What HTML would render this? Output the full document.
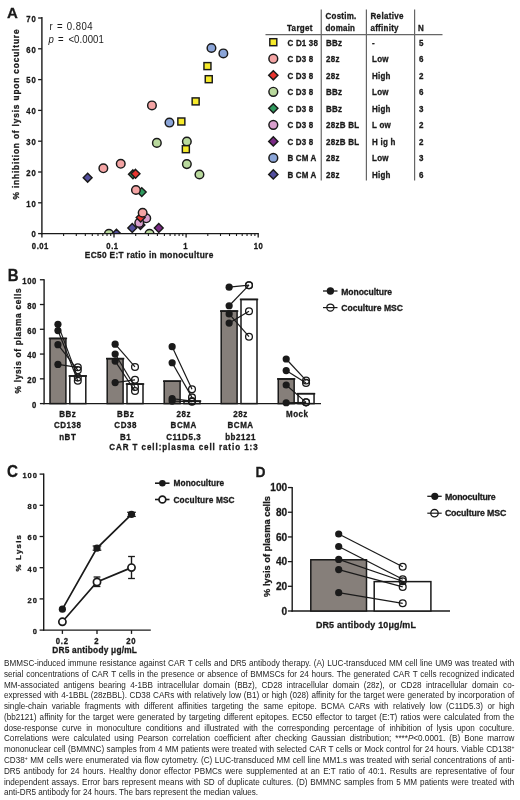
<!DOCTYPE html>
<html><head><meta charset="utf-8"><style>
html,body{margin:0;padding:0;background:#fff;}
body{width:520px;height:800px;position:relative;overflow:hidden;font-family:"Liberation Sans", sans-serif;}
svg{position:absolute;left:0;top:0;will-change:transform;}
svg text{font-family:"Liberation Sans", sans-serif;}
svg text[font-weight=bold]{stroke:#1a1a1a;stroke-width:0.28px;}
.j,.l{will-change:transform;position:absolute;left:3.6px;width:510.4px;font-size:8.13px;line-height:8px;color:#262626;white-space:nowrap;transform:scaleY(1.05);transform-origin:0 7px;}
.j{text-align:justify;text-align-last:justify;white-space:normal;}
sup{font-size:5px;vertical-align:3px;line-height:0;}
</style></head><body>
<svg width="520" height="800" viewBox="0 0 520 800">
<text transform="translate(6.90 17.60) scale(1 1.0)" font-size="15.0" font-weight="bold" fill="#1a1a1a">A</text>
<line x1="41.90" y1="17.00" x2="41.90" y2="234.30" stroke="#1a1a1a" stroke-width="1.4"/>
<line x1="41.20" y1="233.60" x2="258.80" y2="233.60" stroke="#1a1a1a" stroke-width="1.4"/>
<line x1="38.10" y1="233.60" x2="41.90" y2="233.60" stroke="#1a1a1a" stroke-width="1.3"/>
<text transform="translate(35.70 237.30) scale(1 1.07)" font-size="7.7" font-weight="bold" text-anchor="end" fill="#1a1a1a">0</text>
<line x1="38.10" y1="202.80" x2="41.90" y2="202.80" stroke="#1a1a1a" stroke-width="1.3"/>
<text transform="translate(35.70 206.50) scale(1 1.07)" font-size="7.7" font-weight="bold" text-anchor="end" textLength="9.46" lengthAdjust="spacing" fill="#1a1a1a">10</text>
<line x1="38.10" y1="172.00" x2="41.90" y2="172.00" stroke="#1a1a1a" stroke-width="1.3"/>
<text transform="translate(35.70 175.70) scale(1 1.07)" font-size="7.7" font-weight="bold" text-anchor="end" textLength="9.46" lengthAdjust="spacing" fill="#1a1a1a">20</text>
<line x1="38.10" y1="141.20" x2="41.90" y2="141.20" stroke="#1a1a1a" stroke-width="1.3"/>
<text transform="translate(35.70 144.90) scale(1 1.07)" font-size="7.7" font-weight="bold" text-anchor="end" textLength="9.46" lengthAdjust="spacing" fill="#1a1a1a">30</text>
<line x1="38.10" y1="110.40" x2="41.90" y2="110.40" stroke="#1a1a1a" stroke-width="1.3"/>
<text transform="translate(35.70 114.10) scale(1 1.07)" font-size="7.7" font-weight="bold" text-anchor="end" textLength="9.46" lengthAdjust="spacing" fill="#1a1a1a">40</text>
<line x1="38.10" y1="79.60" x2="41.90" y2="79.60" stroke="#1a1a1a" stroke-width="1.3"/>
<text transform="translate(35.70 83.30) scale(1 1.07)" font-size="7.7" font-weight="bold" text-anchor="end" textLength="9.46" lengthAdjust="spacing" fill="#1a1a1a">50</text>
<line x1="38.10" y1="48.80" x2="41.90" y2="48.80" stroke="#1a1a1a" stroke-width="1.3"/>
<text transform="translate(35.70 52.50) scale(1 1.07)" font-size="7.7" font-weight="bold" text-anchor="end" textLength="9.46" lengthAdjust="spacing" fill="#1a1a1a">60</text>
<line x1="38.10" y1="18.00" x2="41.90" y2="18.00" stroke="#1a1a1a" stroke-width="1.3"/>
<text transform="translate(35.70 21.70) scale(1 1.07)" font-size="7.7" font-weight="bold" text-anchor="end" textLength="9.46" lengthAdjust="spacing" fill="#1a1a1a">70</text>
<line x1="41.90" y1="233.60" x2="41.90" y2="237.40" stroke="#1a1a1a" stroke-width="1.3"/>
<line x1="114.00" y1="233.60" x2="114.00" y2="237.40" stroke="#1a1a1a" stroke-width="1.3"/>
<line x1="186.10" y1="233.60" x2="186.10" y2="237.40" stroke="#1a1a1a" stroke-width="1.3"/>
<line x1="258.20" y1="233.60" x2="258.20" y2="237.40" stroke="#1a1a1a" stroke-width="1.3"/>
<line x1="63.60" y1="233.60" x2="63.60" y2="236.00" stroke="#1a1a1a" stroke-width="1.1"/>
<line x1="76.30" y1="233.60" x2="76.30" y2="236.00" stroke="#1a1a1a" stroke-width="1.1"/>
<line x1="85.31" y1="233.60" x2="85.31" y2="236.00" stroke="#1a1a1a" stroke-width="1.1"/>
<line x1="92.30" y1="233.60" x2="92.30" y2="236.00" stroke="#1a1a1a" stroke-width="1.1"/>
<line x1="98.00" y1="233.60" x2="98.00" y2="236.00" stroke="#1a1a1a" stroke-width="1.1"/>
<line x1="102.83" y1="233.60" x2="102.83" y2="236.00" stroke="#1a1a1a" stroke-width="1.1"/>
<line x1="107.01" y1="233.60" x2="107.01" y2="236.00" stroke="#1a1a1a" stroke-width="1.1"/>
<line x1="110.70" y1="233.60" x2="110.70" y2="236.00" stroke="#1a1a1a" stroke-width="1.1"/>
<line x1="135.70" y1="233.60" x2="135.70" y2="236.00" stroke="#1a1a1a" stroke-width="1.1"/>
<line x1="148.40" y1="233.60" x2="148.40" y2="236.00" stroke="#1a1a1a" stroke-width="1.1"/>
<line x1="157.41" y1="233.60" x2="157.41" y2="236.00" stroke="#1a1a1a" stroke-width="1.1"/>
<line x1="164.40" y1="233.60" x2="164.40" y2="236.00" stroke="#1a1a1a" stroke-width="1.1"/>
<line x1="170.10" y1="233.60" x2="170.10" y2="236.00" stroke="#1a1a1a" stroke-width="1.1"/>
<line x1="174.93" y1="233.60" x2="174.93" y2="236.00" stroke="#1a1a1a" stroke-width="1.1"/>
<line x1="179.11" y1="233.60" x2="179.11" y2="236.00" stroke="#1a1a1a" stroke-width="1.1"/>
<line x1="182.80" y1="233.60" x2="182.80" y2="236.00" stroke="#1a1a1a" stroke-width="1.1"/>
<line x1="207.80" y1="233.60" x2="207.80" y2="236.00" stroke="#1a1a1a" stroke-width="1.1"/>
<line x1="220.50" y1="233.60" x2="220.50" y2="236.00" stroke="#1a1a1a" stroke-width="1.1"/>
<line x1="229.51" y1="233.60" x2="229.51" y2="236.00" stroke="#1a1a1a" stroke-width="1.1"/>
<line x1="236.50" y1="233.60" x2="236.50" y2="236.00" stroke="#1a1a1a" stroke-width="1.1"/>
<line x1="242.20" y1="233.60" x2="242.20" y2="236.00" stroke="#1a1a1a" stroke-width="1.1"/>
<line x1="247.03" y1="233.60" x2="247.03" y2="236.00" stroke="#1a1a1a" stroke-width="1.1"/>
<line x1="251.21" y1="233.60" x2="251.21" y2="236.00" stroke="#1a1a1a" stroke-width="1.1"/>
<line x1="254.90" y1="233.60" x2="254.90" y2="236.00" stroke="#1a1a1a" stroke-width="1.1"/>
<text transform="translate(40.10 248.50) scale(1 1.07)" font-size="7.7" font-weight="bold" text-anchor="middle" textLength="16.49" lengthAdjust="spacing" fill="#1a1a1a">0.01</text>
<text transform="translate(112.20 248.50) scale(1 1.07)" font-size="7.7" font-weight="bold" text-anchor="middle" textLength="11.70" lengthAdjust="spacing" fill="#1a1a1a">0.1</text>
<text transform="translate(185.40 248.50) scale(1 1.07)" font-size="7.7" font-weight="bold" text-anchor="middle" fill="#1a1a1a">1</text>
<text transform="translate(258.20 248.50) scale(1 1.07)" font-size="7.7" font-weight="bold" text-anchor="middle" textLength="9.16" lengthAdjust="spacing" fill="#1a1a1a">10</text>
<text transform="translate(84.80 257.50) scale(1 1.07)" font-size="8.3" font-weight="bold" textLength="128.50" lengthAdjust="spacing" fill="#1a1a1a">EC50 E:T ratio in monoculture</text>
<text transform="translate(19.3,199.5) rotate(-90) scale(1 1.07)" font-size="8.3" font-weight="bold" textLength="170" lengthAdjust="spacing" fill="#1a1a1a">% inhibition of lysis upon coculture</text>
<text transform="translate(49.60 30.10) scale(1 1.07)" font-size="9.6" fill="#1a1a1a">r</text>
<text transform="translate(57.00 30.10) scale(1 1.07)" font-size="9.6" fill="#1a1a1a">=</text>
<text transform="translate(66.80 30.10) scale(1 1.07)" font-size="9.6" textLength="25.90" lengthAdjust="spacing" fill="#1a1a1a">0.804</text>
<text transform="translate(48.4 43.2) scale(1 1.1)" font-size="9.6" font-style="italic" fill="#1a1a1a">p</text>
<text transform="translate(57.90 43.20) scale(1 1.07)" font-size="9.6" fill="#1a1a1a">=</text>
<text transform="translate(68.40 43.20) scale(1 1.07)" font-size="9.6" textLength="35.40" lengthAdjust="spacing" fill="#1a1a1a">&lt;0.0001</text>
<defs><clipPath id="ca"><rect x="0" y="0" width="520" height="233"/></clipPath></defs><g clip-path="url(#ca)">
<circle cx="211.45" cy="48.00" r="4.3" fill="#8ba5d8" stroke="#1a1a1a" stroke-width="1.45"/>
<circle cx="223.35" cy="53.40" r="4.3" fill="#8ba5d8" stroke="#1a1a1a" stroke-width="1.45"/>
<rect x="203.95" y="62.60" width="7.0" height="7.0" fill="#f6ea2c" stroke="#1a1a1a" stroke-width="1.45"/>
<rect x="205.25" y="75.70" width="7.0" height="7.0" fill="#f6ea2c" stroke="#1a1a1a" stroke-width="1.45"/>
<rect x="192.15" y="97.90" width="7.0" height="7.0" fill="#f6ea2c" stroke="#1a1a1a" stroke-width="1.45"/>
<rect x="177.85" y="118.00" width="7.0" height="7.0" fill="#f6ea2c" stroke="#1a1a1a" stroke-width="1.45"/>
<circle cx="151.95" cy="105.40" r="4.3" fill="#f4a4a4" stroke="#1a1a1a" stroke-width="1.45"/>
<circle cx="169.45" cy="122.60" r="4.3" fill="#8ba5d8" stroke="#1a1a1a" stroke-width="1.45"/>
<circle cx="156.85" cy="142.90" r="4.3" fill="#b9d99d" stroke="#1a1a1a" stroke-width="1.45"/>
<circle cx="186.85" cy="141.50" r="4.3" fill="#b9d99d" stroke="#1a1a1a" stroke-width="1.45"/>
<rect x="182.35" y="145.70" width="7.0" height="7.0" fill="#f6ea2c" stroke="#1a1a1a" stroke-width="1.45"/>
<circle cx="186.85" cy="164.10" r="4.3" fill="#b9d99d" stroke="#1a1a1a" stroke-width="1.45"/>
<circle cx="199.45" cy="174.50" r="4.3" fill="#b9d99d" stroke="#1a1a1a" stroke-width="1.45"/>
<path d="M87.65 173.30L92.05 177.70L87.65 182.10L83.25 177.70Z" fill="#534f9e" stroke="#1a1a1a" stroke-width="1.45"/>
<circle cx="103.35" cy="168.30" r="4.3" fill="#f4a4a4" stroke="#1a1a1a" stroke-width="1.45"/>
<circle cx="120.75" cy="163.80" r="4.3" fill="#f4a4a4" stroke="#1a1a1a" stroke-width="1.45"/>
<path d="M132.95 169.90L137.35 174.30L132.95 178.70L128.55 174.30Z" fill="#2f9a5e" stroke="#1a1a1a" stroke-width="1.45"/>
<path d="M135.55 169.40L139.95 173.80L135.55 178.20L131.15 173.80Z" fill="#e8352f" stroke="#1a1a1a" stroke-width="1.45"/>
<path d="M141.75 187.70L146.15 192.10L141.75 196.50L137.35 192.10Z" fill="#2f9a5e" stroke="#1a1a1a" stroke-width="1.45"/>
<circle cx="135.95" cy="190.00" r="4.3" fill="#f4a4a4" stroke="#1a1a1a" stroke-width="1.45"/>
<path d="M132.25 223.60L136.65 228.00L132.25 232.40L127.85 228.00Z" fill="#534f9e" stroke="#1a1a1a" stroke-width="1.45"/>
<path d="M140.45 220.70L144.85 225.10L140.45 229.50L136.05 225.10Z" fill="#7b2a86" stroke="#1a1a1a" stroke-width="1.45"/>
<circle cx="146.25" cy="218.30" r="4.3" fill="#d99fcd" stroke="#1a1a1a" stroke-width="1.45"/>
<circle cx="139.25" cy="222.90" r="4.3" fill="#d99fcd" stroke="#1a1a1a" stroke-width="1.45"/>
<path d="M140.65 213.20L145.05 217.60L140.65 222.00L136.25 217.60Z" fill="#e8352f" stroke="#1a1a1a" stroke-width="1.45"/>
<circle cx="142.65" cy="212.70" r="4.3" fill="#f4a4a4" stroke="#1a1a1a" stroke-width="1.45"/>
<circle cx="108.95" cy="233.70" r="4.3" fill="#b9d99d" stroke="#1a1a1a" stroke-width="1.45"/>
<path d="M116.45 229.30L120.85 233.70L116.45 238.10L112.05 233.70Z" fill="#534f9e" stroke="#1a1a1a" stroke-width="1.45"/>
<circle cx="149.55" cy="233.70" r="4.3" fill="#b9d99d" stroke="#1a1a1a" stroke-width="1.45"/>
<path d="M158.75 223.60L163.15 228.00L158.75 232.40L154.35 228.00Z" fill="#7b2a86" stroke="#1a1a1a" stroke-width="1.45"/>
</g>
<line x1="321.25" y1="9.50" x2="321.25" y2="180.50" stroke="#666666" stroke-width="1.2"/>
<line x1="366.40" y1="9.50" x2="366.40" y2="180.50" stroke="#666666" stroke-width="1.2"/>
<line x1="414.60" y1="9.50" x2="414.60" y2="180.50" stroke="#666666" stroke-width="1.2"/>
<line x1="265.50" y1="34.60" x2="442.50" y2="34.60" stroke="#666666" stroke-width="1.1"/>
<text transform="translate(287.00 30.50) scale(1 1.07)" font-size="8.0" font-weight="bold" textLength="25.50" lengthAdjust="spacing" fill="#1a1a1a">Target</text>
<text transform="translate(325.50 19.30) scale(1 1.07)" font-size="8.0" font-weight="bold" textLength="30.80" lengthAdjust="spacing" fill="#1a1a1a">Costim.</text>
<text transform="translate(325.50 30.50) scale(1 1.07)" font-size="8.0" font-weight="bold" textLength="29.50" lengthAdjust="spacing" fill="#1a1a1a">domain</text>
<text transform="translate(370.50 19.30) scale(1 1.07)" font-size="8.0" font-weight="bold" textLength="33.00" lengthAdjust="spacing" fill="#1a1a1a">Relative</text>
<text transform="translate(370.50 30.50) scale(1 1.07)" font-size="8.0" font-weight="bold" textLength="28.00" lengthAdjust="spacing" fill="#1a1a1a">affinity</text>
<text transform="translate(418.00 30.50) scale(1 1.07)" font-size="8.0" font-weight="bold" fill="#1a1a1a">N</text>
<rect x="269.80" y="38.70" width="7.0" height="7.0" fill="#f6ea2c" stroke="#1a1a1a" stroke-width="1.45"/>
<text transform="translate(287.60 45.60) scale(1 1.07)" font-size="8.0" font-weight="bold" textLength="30.25" lengthAdjust="spacing" fill="#1a1a1a">C D1 38</text>
<text transform="translate(326.00 45.60) scale(1 1.07)" font-size="8.0" font-weight="bold" textLength="16.05" lengthAdjust="spacing" fill="#1a1a1a">BBz</text>
<text transform="translate(372.00 45.60) scale(1 1.07)" font-size="8.0" font-weight="bold" fill="#1a1a1a">-</text>
<text transform="translate(419.00 45.60) scale(1 1.07)" font-size="8.0" font-weight="bold" fill="#1a1a1a">5</text>
<circle cx="273.30" cy="58.73" r="4.4" fill="#f4a4a4" stroke="#1a1a1a" stroke-width="1.45"/>
<text transform="translate(287.60 62.13) scale(1 1.07)" font-size="8.0" font-weight="bold" textLength="25.55" lengthAdjust="spacing" fill="#1a1a1a">C D3 8</text>
<text transform="translate(326.00 62.13) scale(1 1.07)" font-size="8.0" font-weight="bold" textLength="13.40" lengthAdjust="spacing" fill="#1a1a1a">28z</text>
<text transform="translate(372.00 62.13) scale(1 1.07)" font-size="8.0" font-weight="bold" textLength="16.50" lengthAdjust="spacing" fill="#1a1a1a">Low</text>
<text transform="translate(419.00 62.13) scale(1 1.07)" font-size="8.0" font-weight="bold" fill="#1a1a1a">6</text>
<path d="M273.30 70.66L277.90 75.26L273.30 79.86L268.70 75.26Z" fill="#e8352f" stroke="#1a1a1a" stroke-width="1.45"/>
<text transform="translate(287.60 78.66) scale(1 1.07)" font-size="8.0" font-weight="bold" textLength="25.55" lengthAdjust="spacing" fill="#1a1a1a">C D3 8</text>
<text transform="translate(326.00 78.66) scale(1 1.07)" font-size="8.0" font-weight="bold" textLength="13.40" lengthAdjust="spacing" fill="#1a1a1a">28z</text>
<text transform="translate(372.00 78.66) scale(1 1.07)" font-size="8.0" font-weight="bold" textLength="18.52" lengthAdjust="spacing" fill="#1a1a1a">High</text>
<text transform="translate(419.00 78.66) scale(1 1.07)" font-size="8.0" font-weight="bold" fill="#1a1a1a">2</text>
<circle cx="273.30" cy="91.79" r="4.4" fill="#b9d99d" stroke="#1a1a1a" stroke-width="1.45"/>
<text transform="translate(287.60 95.19) scale(1 1.07)" font-size="8.0" font-weight="bold" textLength="25.55" lengthAdjust="spacing" fill="#1a1a1a">C D3 8</text>
<text transform="translate(326.00 95.19) scale(1 1.07)" font-size="8.0" font-weight="bold" textLength="16.05" lengthAdjust="spacing" fill="#1a1a1a">BBz</text>
<text transform="translate(372.00 95.19) scale(1 1.07)" font-size="8.0" font-weight="bold" textLength="16.50" lengthAdjust="spacing" fill="#1a1a1a">Low</text>
<text transform="translate(419.00 95.19) scale(1 1.07)" font-size="8.0" font-weight="bold" fill="#1a1a1a">6</text>
<path d="M273.30 103.72L277.90 108.32L273.30 112.92L268.70 108.32Z" fill="#2f9a5e" stroke="#1a1a1a" stroke-width="1.45"/>
<text transform="translate(287.60 111.72) scale(1 1.07)" font-size="8.0" font-weight="bold" textLength="25.55" lengthAdjust="spacing" fill="#1a1a1a">C D3 8</text>
<text transform="translate(326.00 111.72) scale(1 1.07)" font-size="8.0" font-weight="bold" textLength="16.05" lengthAdjust="spacing" fill="#1a1a1a">BBz</text>
<text transform="translate(372.00 111.72) scale(1 1.07)" font-size="8.0" font-weight="bold" textLength="18.52" lengthAdjust="spacing" fill="#1a1a1a">High</text>
<text transform="translate(419.00 111.72) scale(1 1.07)" font-size="8.0" font-weight="bold" fill="#1a1a1a">3</text>
<circle cx="273.30" cy="124.85" r="4.4" fill="#d99fcd" stroke="#1a1a1a" stroke-width="1.45"/>
<text transform="translate(287.60 128.25) scale(1 1.07)" font-size="8.0" font-weight="bold" textLength="25.55" lengthAdjust="spacing" fill="#1a1a1a">C D3 8</text>
<text transform="translate(326.00 128.25) scale(1 1.07)" font-size="8.0" font-weight="bold" textLength="33.06" lengthAdjust="spacing" fill="#1a1a1a">28zB BL</text>
<text transform="translate(372.00 128.25) scale(1 1.07)" font-size="8.0" font-weight="bold" textLength="18.82" lengthAdjust="spacing" fill="#1a1a1a">L ow</text>
<text transform="translate(419.00 128.25) scale(1 1.07)" font-size="8.0" font-weight="bold" fill="#1a1a1a">2</text>
<path d="M273.30 136.78L277.90 141.38L273.30 145.98L268.70 141.38Z" fill="#7b2a86" stroke="#1a1a1a" stroke-width="1.45"/>
<text transform="translate(287.60 144.78) scale(1 1.07)" font-size="8.0" font-weight="bold" textLength="25.55" lengthAdjust="spacing" fill="#1a1a1a">C D3 8</text>
<text transform="translate(326.00 144.78) scale(1 1.07)" font-size="8.0" font-weight="bold" textLength="33.06" lengthAdjust="spacing" fill="#1a1a1a">28zB BL</text>
<text transform="translate(372.00 144.78) scale(1 1.07)" font-size="8.0" font-weight="bold" textLength="23.47" lengthAdjust="spacing" fill="#1a1a1a">H ig h</text>
<text transform="translate(419.00 144.78) scale(1 1.07)" font-size="8.0" font-weight="bold" fill="#1a1a1a">2</text>
<circle cx="273.30" cy="157.91" r="4.4" fill="#8ba5d8" stroke="#1a1a1a" stroke-width="1.45"/>
<text transform="translate(287.60 161.31) scale(1 1.07)" font-size="8.0" font-weight="bold" textLength="28.79" lengthAdjust="spacing" fill="#1a1a1a">B CM A</text>
<text transform="translate(326.00 161.31) scale(1 1.07)" font-size="8.0" font-weight="bold" textLength="13.40" lengthAdjust="spacing" fill="#1a1a1a">28z</text>
<text transform="translate(372.00 161.31) scale(1 1.07)" font-size="8.0" font-weight="bold" textLength="16.50" lengthAdjust="spacing" fill="#1a1a1a">Low</text>
<text transform="translate(419.00 161.31) scale(1 1.07)" font-size="8.0" font-weight="bold" fill="#1a1a1a">3</text>
<path d="M273.30 169.84L277.90 174.44L273.30 179.04L268.70 174.44Z" fill="#534f9e" stroke="#1a1a1a" stroke-width="1.45"/>
<text transform="translate(287.60 177.84) scale(1 1.07)" font-size="8.0" font-weight="bold" textLength="28.79" lengthAdjust="spacing" fill="#1a1a1a">B CM A</text>
<text transform="translate(326.00 177.84) scale(1 1.07)" font-size="8.0" font-weight="bold" textLength="13.40" lengthAdjust="spacing" fill="#1a1a1a">28z</text>
<text transform="translate(372.00 177.84) scale(1 1.07)" font-size="8.0" font-weight="bold" textLength="18.52" lengthAdjust="spacing" fill="#1a1a1a">High</text>
<text transform="translate(419.00 177.84) scale(1 1.07)" font-size="8.0" font-weight="bold" fill="#1a1a1a">6</text>
<text transform="translate(7.80 280.80) scale(1 1.1)" font-size="15.0" font-weight="bold" fill="#1a1a1a">B</text>
<line x1="44.10" y1="279.30" x2="44.10" y2="404.30" stroke="#1a1a1a" stroke-width="1.4"/>
<line x1="43.40" y1="403.60" x2="321.00" y2="403.60" stroke="#1a1a1a" stroke-width="1.4"/>
<line x1="39.90" y1="403.60" x2="44.10" y2="403.60" stroke="#1a1a1a" stroke-width="1.3"/>
<text transform="translate(36.20 408.00) scale(1 1.07)" font-size="7.7" font-weight="bold" text-anchor="end" fill="#1a1a1a">0</text>
<line x1="39.90" y1="378.83" x2="44.10" y2="378.83" stroke="#1a1a1a" stroke-width="1.3"/>
<text transform="translate(36.20 383.23) scale(1 1.07)" font-size="7.7" font-weight="bold" text-anchor="end" textLength="9.06" lengthAdjust="spacing" fill="#1a1a1a">20</text>
<line x1="39.90" y1="354.06" x2="44.10" y2="354.06" stroke="#1a1a1a" stroke-width="1.3"/>
<text transform="translate(36.20 358.46) scale(1 1.07)" font-size="7.7" font-weight="bold" text-anchor="end" textLength="9.06" lengthAdjust="spacing" fill="#1a1a1a">40</text>
<line x1="39.90" y1="329.29" x2="44.10" y2="329.29" stroke="#1a1a1a" stroke-width="1.3"/>
<text transform="translate(36.20 333.69) scale(1 1.07)" font-size="7.7" font-weight="bold" text-anchor="end" textLength="9.06" lengthAdjust="spacing" fill="#1a1a1a">60</text>
<line x1="39.90" y1="304.52" x2="44.10" y2="304.52" stroke="#1a1a1a" stroke-width="1.3"/>
<text transform="translate(36.20 308.92) scale(1 1.07)" font-size="7.7" font-weight="bold" text-anchor="end" textLength="9.06" lengthAdjust="spacing" fill="#1a1a1a">80</text>
<line x1="39.90" y1="279.75" x2="44.10" y2="279.75" stroke="#1a1a1a" stroke-width="1.3"/>
<text transform="translate(36.20 284.15) scale(1 1.07)" font-size="7.7" font-weight="bold" text-anchor="end" textLength="13.85" lengthAdjust="spacing" fill="#1a1a1a">100</text>
<text transform="translate(21.4,393.4) rotate(-90) scale(1 1.07)" font-size="8.3" font-weight="bold" textLength="105" lengthAdjust="spacing" fill="#1a1a1a">% lysis of plasma cells</text>
<rect x="50.00" y="338.45" width="15.90" height="65.15" fill="#867f7a" stroke="#1a1a1a" stroke-width="1.5"/>
<line x1="48.80" y1="338.45" x2="67.10" y2="338.45" stroke="#1a1a1a" stroke-width="1.6"/>
<rect x="69.80" y="375.98" width="16.00" height="27.62" fill="#fff" stroke="#1a1a1a" stroke-width="1.5"/>
<line x1="68.60" y1="375.98" x2="87.00" y2="375.98" stroke="#1a1a1a" stroke-width="1.6"/>
<rect x="107.20" y="358.64" width="15.90" height="44.96" fill="#867f7a" stroke="#1a1a1a" stroke-width="1.5"/>
<line x1="106.00" y1="358.64" x2="124.30" y2="358.64" stroke="#1a1a1a" stroke-width="1.6"/>
<rect x="127.00" y="384.03" width="16.00" height="19.57" fill="#fff" stroke="#1a1a1a" stroke-width="1.5"/>
<line x1="125.80" y1="384.03" x2="144.20" y2="384.03" stroke="#1a1a1a" stroke-width="1.6"/>
<rect x="164.20" y="381.18" width="15.90" height="22.42" fill="#867f7a" stroke="#1a1a1a" stroke-width="1.5"/>
<line x1="163.00" y1="381.18" x2="181.30" y2="381.18" stroke="#1a1a1a" stroke-width="1.6"/>
<rect x="184.00" y="401.12" width="16.00" height="2.48" fill="#fff" stroke="#1a1a1a" stroke-width="1.5"/>
<line x1="182.80" y1="401.12" x2="201.20" y2="401.12" stroke="#1a1a1a" stroke-width="1.6"/>
<rect x="221.20" y="311.08" width="15.90" height="92.52" fill="#867f7a" stroke="#1a1a1a" stroke-width="1.5"/>
<line x1="220.00" y1="311.08" x2="238.30" y2="311.08" stroke="#1a1a1a" stroke-width="1.6"/>
<rect x="241.00" y="299.44" width="16.00" height="104.16" fill="#fff" stroke="#1a1a1a" stroke-width="1.5"/>
<line x1="239.80" y1="299.44" x2="258.20" y2="299.44" stroke="#1a1a1a" stroke-width="1.6"/>
<rect x="278.25" y="378.95" width="15.90" height="24.65" fill="#867f7a" stroke="#1a1a1a" stroke-width="1.5"/>
<line x1="277.05" y1="378.95" x2="295.35" y2="378.95" stroke="#1a1a1a" stroke-width="1.6"/>
<rect x="298.05" y="393.69" width="16.00" height="9.91" fill="#fff" stroke="#1a1a1a" stroke-width="1.5"/>
<line x1="296.85" y1="393.69" x2="315.25" y2="393.69" stroke="#1a1a1a" stroke-width="1.6"/>
<line x1="57.95" y1="324.34" x2="77.80" y2="377.59" stroke="#1a1a1a" stroke-width="1.2"/>
<line x1="57.95" y1="330.53" x2="77.80" y2="380.69" stroke="#1a1a1a" stroke-width="1.2"/>
<line x1="57.95" y1="344.65" x2="77.80" y2="370.16" stroke="#1a1a1a" stroke-width="1.2"/>
<line x1="57.95" y1="364.46" x2="77.80" y2="367.31" stroke="#1a1a1a" stroke-width="1.2"/>
<circle cx="57.95" cy="324.34" r="3.6" fill="#1a1a1a"/>
<circle cx="57.95" cy="330.53" r="3.6" fill="#1a1a1a"/>
<circle cx="57.95" cy="344.65" r="3.6" fill="#1a1a1a"/>
<circle cx="57.95" cy="364.46" r="3.6" fill="#1a1a1a"/>
<circle cx="77.80" cy="380.69" r="3.4" fill="none" stroke="#1a1a1a" stroke-width="1.3"/>
<circle cx="77.80" cy="377.59" r="3.4" fill="none" stroke="#1a1a1a" stroke-width="1.3"/>
<circle cx="77.80" cy="370.16" r="3.4" fill="none" stroke="#1a1a1a" stroke-width="1.3"/>
<circle cx="77.80" cy="367.31" r="3.4" fill="none" stroke="#1a1a1a" stroke-width="1.3"/>
<line x1="115.15" y1="344.15" x2="135.00" y2="366.94" stroke="#1a1a1a" stroke-width="1.2"/>
<line x1="115.15" y1="354.06" x2="135.00" y2="387.00" stroke="#1a1a1a" stroke-width="1.2"/>
<line x1="115.15" y1="361.12" x2="135.00" y2="390.97" stroke="#1a1a1a" stroke-width="1.2"/>
<line x1="115.15" y1="382.55" x2="135.00" y2="379.82" stroke="#1a1a1a" stroke-width="1.2"/>
<circle cx="115.15" cy="344.15" r="3.6" fill="#1a1a1a"/>
<circle cx="115.15" cy="354.06" r="3.6" fill="#1a1a1a"/>
<circle cx="115.15" cy="361.12" r="3.6" fill="#1a1a1a"/>
<circle cx="115.15" cy="382.55" r="3.6" fill="#1a1a1a"/>
<circle cx="135.00" cy="366.94" r="3.4" fill="none" stroke="#1a1a1a" stroke-width="1.3"/>
<circle cx="135.00" cy="387.00" r="3.4" fill="none" stroke="#1a1a1a" stroke-width="1.3"/>
<circle cx="135.00" cy="390.97" r="3.4" fill="none" stroke="#1a1a1a" stroke-width="1.3"/>
<circle cx="135.00" cy="379.82" r="3.4" fill="none" stroke="#1a1a1a" stroke-width="1.3"/>
<line x1="172.15" y1="346.63" x2="192.00" y2="389.23" stroke="#1a1a1a" stroke-width="1.2"/>
<line x1="172.15" y1="362.73" x2="192.00" y2="397.41" stroke="#1a1a1a" stroke-width="1.2"/>
<line x1="172.15" y1="398.65" x2="192.00" y2="401.12" stroke="#1a1a1a" stroke-width="1.2"/>
<line x1="172.15" y1="401.12" x2="192.00" y2="401.74" stroke="#1a1a1a" stroke-width="1.2"/>
<circle cx="172.15" cy="346.63" r="3.6" fill="#1a1a1a"/>
<circle cx="172.15" cy="362.73" r="3.6" fill="#1a1a1a"/>
<circle cx="172.15" cy="398.65" r="3.6" fill="#1a1a1a"/>
<circle cx="172.15" cy="401.12" r="3.6" fill="#1a1a1a"/>
<circle cx="192.00" cy="389.23" r="3.4" fill="none" stroke="#1a1a1a" stroke-width="1.3"/>
<circle cx="192.00" cy="397.41" r="3.4" fill="none" stroke="#1a1a1a" stroke-width="1.3"/>
<circle cx="192.00" cy="401.12" r="3.4" fill="none" stroke="#1a1a1a" stroke-width="1.3"/>
<circle cx="192.00" cy="401.74" r="3.4" fill="none" stroke="#1a1a1a" stroke-width="1.3"/>
<line x1="229.15" y1="287.18" x2="249.00" y2="285.20" stroke="#1a1a1a" stroke-width="1.2"/>
<line x1="229.15" y1="305.76" x2="249.00" y2="285.20" stroke="#1a1a1a" stroke-width="1.2"/>
<line x1="229.15" y1="313.93" x2="249.00" y2="336.72" stroke="#1a1a1a" stroke-width="1.2"/>
<line x1="229.15" y1="323.10" x2="249.00" y2="311.21" stroke="#1a1a1a" stroke-width="1.2"/>
<circle cx="229.15" cy="287.18" r="3.6" fill="#1a1a1a"/>
<circle cx="229.15" cy="305.76" r="3.6" fill="#1a1a1a"/>
<circle cx="229.15" cy="313.93" r="3.6" fill="#1a1a1a"/>
<circle cx="229.15" cy="323.10" r="3.6" fill="#1a1a1a"/>
<circle cx="249.00" cy="285.20" r="3.4" fill="none" stroke="#1a1a1a" stroke-width="1.3"/>
<circle cx="249.00" cy="285.20" r="3.4" fill="none" stroke="#1a1a1a" stroke-width="1.3"/>
<circle cx="249.00" cy="336.72" r="3.4" fill="none" stroke="#1a1a1a" stroke-width="1.3"/>
<circle cx="249.00" cy="311.21" r="3.4" fill="none" stroke="#1a1a1a" stroke-width="1.3"/>
<line x1="286.20" y1="359.01" x2="306.05" y2="380.44" stroke="#1a1a1a" stroke-width="1.2"/>
<line x1="286.20" y1="370.53" x2="306.05" y2="382.92" stroke="#1a1a1a" stroke-width="1.2"/>
<line x1="286.20" y1="385.02" x2="306.05" y2="402.36" stroke="#1a1a1a" stroke-width="1.2"/>
<line x1="286.20" y1="402.73" x2="306.05" y2="402.36" stroke="#1a1a1a" stroke-width="1.2"/>
<circle cx="286.20" cy="359.01" r="3.6" fill="#1a1a1a"/>
<circle cx="286.20" cy="370.53" r="3.6" fill="#1a1a1a"/>
<circle cx="286.20" cy="385.02" r="3.6" fill="#1a1a1a"/>
<circle cx="286.20" cy="402.73" r="3.6" fill="#1a1a1a"/>
<circle cx="306.05" cy="380.44" r="3.4" fill="none" stroke="#1a1a1a" stroke-width="1.3"/>
<circle cx="306.05" cy="382.92" r="3.4" fill="none" stroke="#1a1a1a" stroke-width="1.3"/>
<circle cx="306.05" cy="402.36" r="3.4" fill="none" stroke="#1a1a1a" stroke-width="1.3"/>
<circle cx="306.05" cy="402.36" r="3.4" fill="none" stroke="#1a1a1a" stroke-width="1.3"/>
<text transform="translate(67.50 416.70) scale(1 1.07)" font-size="8.0" font-weight="bold" text-anchor="middle" textLength="16.65" lengthAdjust="spacing" fill="#1a1a1a">BBz</text>
<text transform="translate(67.50 428.30) scale(1 1.07)" font-size="8.0" font-weight="bold" text-anchor="middle" textLength="27.10" lengthAdjust="spacing" fill="#1a1a1a">CD138</text>
<text transform="translate(67.50 439.90) scale(1 1.07)" font-size="8.0" font-weight="bold" text-anchor="middle" textLength="16.65" lengthAdjust="spacing" fill="#1a1a1a">nBT</text>
<text transform="translate(125.40 416.70) scale(1 1.07)" font-size="8.0" font-weight="bold" text-anchor="middle" textLength="16.65" lengthAdjust="spacing" fill="#1a1a1a">BBz</text>
<text transform="translate(125.40 428.30) scale(1 1.07)" font-size="8.0" font-weight="bold" text-anchor="middle" textLength="22.10" lengthAdjust="spacing" fill="#1a1a1a">CD38</text>
<text transform="translate(125.40 439.90) scale(1 1.07)" font-size="8.0" font-weight="bold" text-anchor="middle" textLength="10.78" lengthAdjust="spacing" fill="#1a1a1a">B1</text>
<text transform="translate(183.40 416.70) scale(1 1.07)" font-size="8.0" font-weight="bold" text-anchor="middle" textLength="14.00" lengthAdjust="spacing" fill="#1a1a1a">28z</text>
<text transform="translate(183.40 428.30) scale(1 1.07)" font-size="8.0" font-weight="bold" text-anchor="middle" textLength="25.65" lengthAdjust="spacing" fill="#1a1a1a">BCMA</text>
<text transform="translate(183.40 439.90) scale(1 1.07)" font-size="8.0" font-weight="bold" text-anchor="middle" textLength="34.43" lengthAdjust="spacing" fill="#1a1a1a">C11D5.3</text>
<text transform="translate(240.30 416.70) scale(1 1.07)" font-size="8.0" font-weight="bold" text-anchor="middle" textLength="14.00" lengthAdjust="spacing" fill="#1a1a1a">28z</text>
<text transform="translate(240.30 428.30) scale(1 1.07)" font-size="8.0" font-weight="bold" text-anchor="middle" textLength="25.65" lengthAdjust="spacing" fill="#1a1a1a">BCMA</text>
<text transform="translate(240.30 439.90) scale(1 1.07)" font-size="8.0" font-weight="bold" text-anchor="middle" textLength="30.32" lengthAdjust="spacing" fill="#1a1a1a">bb2121</text>
<text transform="translate(297.00 416.70) scale(1 1.07)" font-size="8.0" font-weight="bold" text-anchor="middle" textLength="22.10" lengthAdjust="spacing" fill="#1a1a1a">Mock</text>
<text transform="translate(109.20 450.10) scale(1 1.07)" font-size="8.0" font-weight="bold" textLength="148.40" lengthAdjust="spacing" fill="#1a1a1a">CAR T cell:plasma cell ratio 1:3</text>
<line x1="323.00" y1="291.00" x2="337.50" y2="291.00" stroke="#1a1a1a" stroke-width="1.3"/>
<circle cx="330.40" cy="291.00" r="3.7" fill="#1a1a1a"/>
<text transform="translate(341.30 294.50) scale(1 1.07)" font-size="8.6" font-weight="bold" textLength="50.70" lengthAdjust="spacing" fill="#1a1a1a">Monoculture</text>
<circle cx="330.40" cy="307.60" r="3.6" fill="#fff" stroke="#1a1a1a" stroke-width="1.25"/>
<line x1="323.00" y1="307.60" x2="337.50" y2="307.60" stroke="#1a1a1a" stroke-width="1.2"/>
<text transform="translate(341.30 311.30) scale(1 1.07)" font-size="8.6" font-weight="bold" textLength="61.70" lengthAdjust="spacing" fill="#1a1a1a">Coculture MSC</text>
<text transform="translate(7.00 477.30) scale(1 1.08)" font-size="15.2" font-weight="bold" fill="#1a1a1a">C</text>
<line x1="43.70" y1="473.50" x2="43.70" y2="630.80" stroke="#1a1a1a" stroke-width="1.4"/>
<line x1="43.00" y1="630.10" x2="150.80" y2="630.10" stroke="#1a1a1a" stroke-width="1.4"/>
<line x1="39.60" y1="630.10" x2="43.70" y2="630.10" stroke="#1a1a1a" stroke-width="1.3"/>
<text transform="translate(36.80 634.05) scale(1 1.0)" font-size="7.5" font-weight="bold" text-anchor="end" fill="#1a1a1a">0</text>
<line x1="39.60" y1="598.90" x2="43.70" y2="598.90" stroke="#1a1a1a" stroke-width="1.3"/>
<text transform="translate(36.80 602.85) scale(1 1.0)" font-size="7.5" font-weight="bold" text-anchor="end" textLength="9.24" lengthAdjust="spacing" fill="#1a1a1a">20</text>
<line x1="39.60" y1="567.70" x2="43.70" y2="567.70" stroke="#1a1a1a" stroke-width="1.3"/>
<text transform="translate(36.80 571.65) scale(1 1.0)" font-size="7.5" font-weight="bold" text-anchor="end" textLength="9.24" lengthAdjust="spacing" fill="#1a1a1a">40</text>
<line x1="39.60" y1="536.50" x2="43.70" y2="536.50" stroke="#1a1a1a" stroke-width="1.3"/>
<text transform="translate(36.80 540.45) scale(1 1.0)" font-size="7.5" font-weight="bold" text-anchor="end" textLength="9.24" lengthAdjust="spacing" fill="#1a1a1a">60</text>
<line x1="39.60" y1="505.30" x2="43.70" y2="505.30" stroke="#1a1a1a" stroke-width="1.3"/>
<text transform="translate(36.80 509.25) scale(1 1.0)" font-size="7.5" font-weight="bold" text-anchor="end" textLength="9.24" lengthAdjust="spacing" fill="#1a1a1a">80</text>
<line x1="39.60" y1="474.10" x2="43.70" y2="474.10" stroke="#1a1a1a" stroke-width="1.3"/>
<text transform="translate(36.80 478.05) scale(1 1.0)" font-size="7.5" font-weight="bold" text-anchor="end" textLength="14.31" lengthAdjust="spacing" fill="#1a1a1a">100</text>
<line x1="62.40" y1="630.10" x2="62.40" y2="633.90" stroke="#1a1a1a" stroke-width="1.3"/>
<line x1="97.00" y1="630.10" x2="97.00" y2="633.90" stroke="#1a1a1a" stroke-width="1.3"/>
<line x1="131.50" y1="630.10" x2="131.50" y2="633.90" stroke="#1a1a1a" stroke-width="1.3"/>
<text transform="translate(61.90 644.30) scale(1 1.07)" font-size="7.7" font-weight="bold" text-anchor="middle" textLength="12.10" lengthAdjust="spacing" fill="#1a1a1a">0.2</text>
<text transform="translate(96.50 644.30) scale(1 1.07)" font-size="7.7" font-weight="bold" text-anchor="middle" fill="#1a1a1a">2</text>
<text transform="translate(130.90 644.30) scale(1 1.07)" font-size="7.7" font-weight="bold" text-anchor="middle" textLength="9.46" lengthAdjust="spacing" fill="#1a1a1a">20</text>
<text transform="translate(52.30 652.50) scale(1 1.07)" font-size="8.3" font-weight="bold" textLength="84.60" lengthAdjust="spacing" fill="#1a1a1a">DR5 antibody &#956;g/mL</text>
<text transform="translate(21.4,571.6) rotate(-90) scale(1 1.0)" font-size="7.9" font-weight="bold" textLength="36.6" lengthAdjust="spacing" fill="#1a1a1a">% Lysis</text>
<polyline points="62.4,609.2 97.0,548.1 131.5,514.35" fill="none" stroke="#1a1a1a" stroke-width="1.7"/>
<polyline points="62.4,621.8 97.0,582.0 131.5,567.6" fill="none" stroke="#1a1a1a" stroke-width="1.7"/>
<line x1="97.00" y1="577.00" x2="97.00" y2="586.50" stroke="#1a1a1a" stroke-width="1.4"/>
<line x1="93.60" y1="577.00" x2="100.40" y2="577.00" stroke="#1a1a1a" stroke-width="1.3"/>
<line x1="93.60" y1="586.50" x2="100.40" y2="586.50" stroke="#1a1a1a" stroke-width="1.3"/>
<line x1="131.50" y1="556.50" x2="131.50" y2="578.50" stroke="#1a1a1a" stroke-width="1.4"/>
<line x1="128.10" y1="556.50" x2="134.90" y2="556.50" stroke="#1a1a1a" stroke-width="1.3"/>
<line x1="128.10" y1="578.50" x2="134.90" y2="578.50" stroke="#1a1a1a" stroke-width="1.3"/>
<line x1="97.00" y1="546.00" x2="97.00" y2="550.20" stroke="#1a1a1a" stroke-width="1.4"/>
<line x1="92.70" y1="546.00" x2="101.30" y2="546.00" stroke="#1a1a1a" stroke-width="1.3"/>
<line x1="92.70" y1="550.20" x2="101.30" y2="550.20" stroke="#1a1a1a" stroke-width="1.3"/>
<line x1="131.50" y1="512.30" x2="131.50" y2="516.40" stroke="#1a1a1a" stroke-width="1.4"/>
<line x1="127.20" y1="512.30" x2="135.80" y2="512.30" stroke="#1a1a1a" stroke-width="1.3"/>
<line x1="127.20" y1="516.40" x2="135.80" y2="516.40" stroke="#1a1a1a" stroke-width="1.3"/>
<circle cx="62.40" cy="609.20" r="3.6" fill="#1a1a1a"/>
<circle cx="97.00" cy="548.10" r="3.6" fill="#1a1a1a"/>
<circle cx="131.50" cy="514.35" r="3.6" fill="#1a1a1a"/>
<circle cx="62.40" cy="621.80" r="3.6" fill="#fff" stroke="#1a1a1a" stroke-width="1.7"/>
<circle cx="97.00" cy="582.00" r="3.6" fill="#fff" stroke="#1a1a1a" stroke-width="1.7"/>
<circle cx="131.50" cy="567.60" r="3.6" fill="#fff" stroke="#1a1a1a" stroke-width="1.7"/>
<line x1="155.00" y1="483.20" x2="169.50" y2="483.20" stroke="#1a1a1a" stroke-width="1.6"/>
<circle cx="162.40" cy="483.20" r="3.3" fill="#1a1a1a"/>
<text transform="translate(173.50 486.20) scale(1 1.07)" font-size="8.3" font-weight="bold" textLength="50.70" lengthAdjust="spacing" fill="#1a1a1a">Monoculture</text>
<line x1="155.00" y1="499.50" x2="169.50" y2="499.50" stroke="#1a1a1a" stroke-width="1.6"/>
<circle cx="162.40" cy="499.50" r="3.4" fill="#fff" stroke="#1a1a1a" stroke-width="1.7"/>
<text transform="translate(173.50 502.80) scale(1 1.07)" font-size="8.3" font-weight="bold" textLength="61.10" lengthAdjust="spacing" fill="#1a1a1a">Coculture MSC</text>
<text transform="translate(255.40 476.90) scale(1 1.0)" font-size="13.8" font-weight="bold" fill="#1a1a1a">D</text>
<line x1="292.20" y1="487.00" x2="292.20" y2="611.70" stroke="#1a1a1a" stroke-width="1.4"/>
<line x1="291.50" y1="611.00" x2="450.00" y2="611.00" stroke="#1a1a1a" stroke-width="1.4"/>
<line x1="287.90" y1="611.00" x2="292.20" y2="611.00" stroke="#1a1a1a" stroke-width="1.3"/>
<text transform="translate(287.20 614.70) scale(1 1.0)" font-size="10.1" font-weight="bold" text-anchor="end" fill="#1a1a1a">0</text>
<line x1="287.90" y1="586.31" x2="292.20" y2="586.31" stroke="#1a1a1a" stroke-width="1.3"/>
<text transform="translate(287.20 590.01) scale(1 1.0)" font-size="10.1" font-weight="bold" text-anchor="end" fill="#1a1a1a">20</text>
<line x1="287.90" y1="561.62" x2="292.20" y2="561.62" stroke="#1a1a1a" stroke-width="1.3"/>
<text transform="translate(287.20 565.32) scale(1 1.0)" font-size="10.1" font-weight="bold" text-anchor="end" fill="#1a1a1a">40</text>
<line x1="287.90" y1="536.93" x2="292.20" y2="536.93" stroke="#1a1a1a" stroke-width="1.3"/>
<text transform="translate(287.20 540.63) scale(1 1.0)" font-size="10.1" font-weight="bold" text-anchor="end" fill="#1a1a1a">60</text>
<line x1="287.90" y1="512.24" x2="292.20" y2="512.24" stroke="#1a1a1a" stroke-width="1.3"/>
<text transform="translate(287.20 515.94) scale(1 1.0)" font-size="10.1" font-weight="bold" text-anchor="end" fill="#1a1a1a">80</text>
<line x1="287.90" y1="487.55" x2="292.20" y2="487.55" stroke="#1a1a1a" stroke-width="1.3"/>
<text transform="translate(287.20 491.25) scale(1 1.0)" font-size="10.1" font-weight="bold" text-anchor="end" fill="#1a1a1a">100</text>
<text transform="translate(269.6,596.9) rotate(-90) scale(1 1.0)" font-size="9.3" font-weight="bold" textLength="100.8" lengthAdjust="spacing" fill="#1a1a1a">% lysis of plasma cells</text>
<rect x="310.8" y="559.77" width="55.7" height="51.23" fill="#867f7a" stroke="#1a1a1a" stroke-width="1.5"/>
<rect x="374.2" y="581.62" width="56.7" height="29.38" fill="#fff" stroke="#1a1a1a" stroke-width="1.5"/>
<line x1="338.70" y1="534.00" x2="402.70" y2="566.70" stroke="#1a1a1a" stroke-width="1.2"/>
<line x1="338.70" y1="546.50" x2="402.70" y2="579.20" stroke="#1a1a1a" stroke-width="1.2"/>
<line x1="338.70" y1="559.40" x2="402.70" y2="581.20" stroke="#1a1a1a" stroke-width="1.2"/>
<line x1="338.70" y1="569.60" x2="402.70" y2="586.90" stroke="#1a1a1a" stroke-width="1.2"/>
<line x1="338.70" y1="592.70" x2="402.70" y2="603.30" stroke="#1a1a1a" stroke-width="1.2"/>
<circle cx="338.70" cy="534.00" r="3.6" fill="#1a1a1a"/>
<circle cx="338.70" cy="546.50" r="3.6" fill="#1a1a1a"/>
<circle cx="338.70" cy="559.40" r="3.6" fill="#1a1a1a"/>
<circle cx="338.70" cy="569.60" r="3.6" fill="#1a1a1a"/>
<circle cx="338.70" cy="592.70" r="3.6" fill="#1a1a1a"/>
<circle cx="402.70" cy="566.70" r="3.4" fill="none" stroke="#1a1a1a" stroke-width="1.3"/>
<circle cx="402.70" cy="579.20" r="3.4" fill="none" stroke="#1a1a1a" stroke-width="1.3"/>
<circle cx="402.70" cy="581.20" r="3.4" fill="none" stroke="#1a1a1a" stroke-width="1.3"/>
<circle cx="402.70" cy="586.90" r="3.4" fill="none" stroke="#1a1a1a" stroke-width="1.3"/>
<circle cx="402.70" cy="603.30" r="3.4" fill="none" stroke="#1a1a1a" stroke-width="1.3"/>
<text transform="translate(315.90 628.20) scale(1 1.0)" font-size="8.9" font-weight="bold" textLength="100.00" lengthAdjust="spacing" fill="#1a1a1a">DR5 antibody 10&#956;g/mL</text>
<line x1="427.30" y1="496.30" x2="441.70" y2="496.30" stroke="#1a1a1a" stroke-width="1.3"/>
<circle cx="434.80" cy="496.30" r="3.6" fill="#1a1a1a"/>
<text transform="translate(444.90 499.50) scale(1 1.07)" font-size="8.8" font-weight="bold" textLength="50.80" lengthAdjust="spacing" fill="#1a1a1a">Monoculture</text>
<circle cx="434.50" cy="513.20" r="3.7" fill="#fff" stroke="#1a1a1a" stroke-width="1.3"/>
<line x1="427.30" y1="513.20" x2="441.70" y2="513.20" stroke="#1a1a1a" stroke-width="1.2"/>
<text transform="translate(444.90 516.40) scale(1 1.07)" font-size="8.8" font-weight="bold" textLength="61.40" lengthAdjust="spacing" fill="#1a1a1a">Coculture MSC</text>
</svg>
<div class="j" style="top:660.10px">BMMSC-induced immune resistance against CAR T cells and DR5 antibody therapy. (A) LUC-transduced MM cell line UM9 was treated with</div>
<div class="j" style="top:670.87px">serial concentrations of CAR T cells in the presence or absence of BMMSCs for 24 hours. The generated CAR T cells recognized indicated</div>
<div class="j" style="top:681.64px">MM-associated antigens bearing 4-1BB intracellular domain (BBz), CD28 intracellular domain (28z), or CD28 intracellular domain co-</div>
<div class="j" style="top:692.41px">expressed with 4-1BBL (28zBBL). CD38 CARs with relatively low (B1) or high (028) affinity for the target were generated by incorporation of</div>
<div class="j" style="top:703.18px">single-chain variable fragments with different affinities targeting the same epitope. BCMA CARs with relatively low (C11D5.3) or high</div>
<div class="j" style="top:713.95px">(bb2121) affinity for the target were generated by targeting different epitopes. EC50 effector to target (E:T) ratios were calculated from the</div>
<div class="j" style="top:724.72px">dose-response curve in monoculture conditions and illustrated with the corresponding percentage of inhibition of lysis upon coculture.</div>
<div class="j" style="top:735.49px">Correlations were calculated using Pearson correlation coefficient after checking Gaussian distribution; ****<i>P</i>&lt;0.0001. (B) Bone marrow</div>
<div class="j" style="top:746.26px">mononuclear cell (BMMNC) samples from 4 MM patients were treated with selected CAR T cells or Mock control for 24 hours. Viable CD138<sup>+</sup></div>
<div class="j" style="top:757.03px">CD38<sup>+</sup> MM cells were enumerated via flow cytometry. (C) LUC-transduced MM cell line MM1.s was treated with serial concentrations of anti-</div>
<div class="j" style="top:767.80px">DR5 antibody for 24 hours. Healthy donor effector PBMCs were supplemented at an E:T ratio of 40:1. Results are representative of four</div>
<div class="j" style="top:778.57px">independent assays. Error bars represent means with SD of duplicate cultures. (D) BMMNC samples from 5 MM patients were treated with</div>
<div class="l" style="top:789.34px">anti-DR5 antibody for 24 hours. The bars represent the median values.</div>

</body></html>
